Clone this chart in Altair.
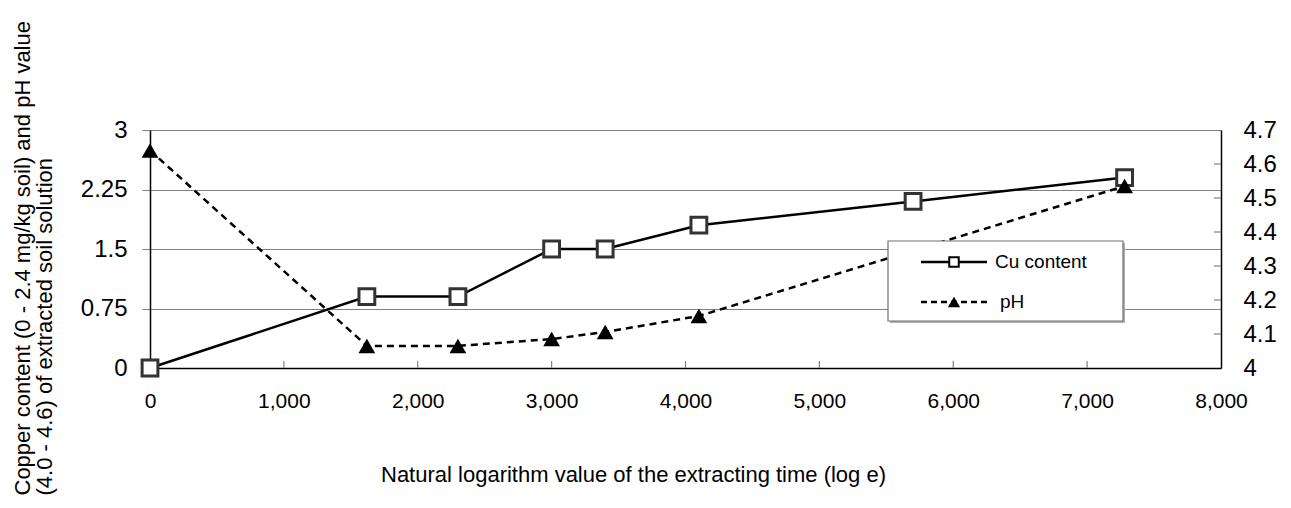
import altair as alt
import pandas as pd

# ---- data ----
times = [0, 1620, 2300, 3000, 3400, 4100, 5700, 7280]
cu_content = [0.0, 0.9, 0.9, 1.5, 1.5, 1.8, 2.1, 2.4]
ph_values = [4.64, 4.065, 4.065, 4.085, 4.106, 4.153, 4.345, 4.535]

x_ticks = [0, 1000, 2000, 3000, 4000, 5000, 6000, 7000, 8000]
cu_ticks = [0, 0.75, 1.5, 2.25, 3]
ph_ticks = [4.0, 4.1, 4.2, 4.3, 4.4, 4.5, 4.6, 4.7]

legend_labels = ["Cu content", "pH"]

FONT = "Liberation Sans"
W, H = 1071, 238

df = pd.DataFrame({"t": times, "cu": cu_content, "ph": ph_values})
df_xt = pd.DataFrame({"t": x_ticks[1:-1]})
df_pht = pd.DataFrame({"ph": ph_ticks[1:-1]})

x_axis = alt.Axis(
    values=x_ticks, format=",.0f", tickSize=0, grid=False,
    labelPadding=22, labelFontSize=21, labelFont=FONT, labelColor="black",
    labelOverlap=False, labelFlush=False,
    domainColor="black", domainWidth=1.5,
    title="Natural logarithm value of the extracting time (log e)",
    titleFont=FONT, titleFontSize=22, titleFontWeight="normal", titleColor="black",
    titleX=483, titleY=113, titleAlign="center", titleBaseline="alphabetic",
)
x_scale = alt.Scale(domain=[0, 8000], nice=False, zero=False)


def xe():
    return alt.X("t:Q", scale=x_scale, axis=x_axis)


cu_axis = alt.Axis(
    values=cu_ticks, format=".2~f", grid=True, gridColor="#808080", gridWidth=1.2,
    tickSize=8, tickColor="#808080", labelPadding=15,
    labelFontSize=24, labelFont=FONT, labelColor="black", labelOverlap=False,
    domainColor="black", domainWidth=1.5,
    title=["Copper content (0 - 2.4 mg/kg soil) and pH value",
           "(4.0 - 4.6) of extracted soil solution"],
    titleFont=FONT, titleFontSize=22, titleFontWeight="normal", titleColor="black",
    titleAngle=270, titleAlign="left", titleBaseline="top",
    titleX=-138, titleY=365, titleLineHeight=22,
)
cu_scale = alt.Scale(domain=[0, 3], nice=False, zero=False)


def cue():
    return alt.Y("cu:Q", scale=cu_scale, axis=cu_axis)


ph_axis = alt.Axis(
    orient="right", values=ph_ticks, format=".1~f", grid=False, tickSize=0,
    labelPadding=22, labelFontSize=24, labelFont=FONT, labelColor="black",
    labelOverlap=False, labelFlush=False, labelBound=False,
    domainColor="black", domainWidth=1.5, title="",
)
ph_scale = alt.Scale(domain=[4, 4.7], nice=False, zero=False)


def phe():
    return alt.Y("ph:Q", scale=ph_scale, axis=ph_axis)


# x-axis inner ticks
x_inner = alt.Chart(df_xt).mark_rule(color="#808080", strokeWidth=1.2).encode(
    x=xe(), y=alt.value(H), y2=alt.value(H - 7),
)

cu_line = alt.Chart(df).mark_line(color="black", strokeWidth=2.5).encode(x=xe(), y=cue())
cu_pts = alt.Chart(df).mark_point(
    shape="square", size=250, filled=True, fill="white", stroke="#333333", strokeWidth=3, opacity=1
).encode(x=xe(), y=cue())

ph_line = alt.Chart(df).mark_line(color="black", strokeWidth=2.5, strokeDash=[7, 5]).encode(x=xe(), y=phe())
ph_pts = alt.Chart(df).mark_point(
    shape="triangle-up", size=280, filled=True, color="black", opacity=1
).encode(x=xe(), y=phe())
ph_inner = alt.Chart(df_pht).mark_rule(color="#808080", strokeWidth=1.2).encode(
    y=phe(), x=alt.value(W - 7), x2=alt.value(W),
)

cu_layer = alt.layer(cu_line, cu_pts, x_inner)
ph_layer = alt.layer(ph_line, ph_pts, ph_inner)
main = alt.layer(cu_layer, ph_layer).resolve_scale(y="independent")

# ---- legend box (drawn on top) ----
lx0, lx1, ly0, ly1 = 738, 973, 111, 191
leg_df = pd.DataFrame({"label": legend_labels})
one = leg_df.head(1)
shadow = alt.Chart(one).mark_rect(fill="#b0b0b0").encode(
    x=alt.value(lx0 + 2), x2=alt.value(lx1 + 2), y=alt.value(ly0 + 2), y2=alt.value(ly1 + 2)
)
box = alt.Chart(one).mark_rect(fill="white", stroke="#707070", strokeWidth=1.2).encode(
    x=alt.value(lx0), x2=alt.value(lx1), y=alt.value(ly0), y2=alt.value(ly1)
)
leg_line1 = alt.Chart(one).mark_rule(color="black", strokeWidth=2.5).encode(
    x=alt.value(771), x2=alt.value(837), y=alt.value(132)
)
leg_line2 = alt.Chart(one).mark_rule(color="black", strokeWidth=2.5, strokeDash=[6, 4]).encode(
    x=alt.value(771), x2=alt.value(837), y=alt.value(172)
)
leg_sq = alt.Chart(one).mark_point(
    shape="square", size=90, filled=True, fill="white", stroke="black", strokeWidth=2, opacity=1
).encode(x=alt.value(804), y=alt.value(132))
leg_tri = alt.Chart(one).mark_point(
    shape="triangle-up", size=150, filled=True, color="black", opacity=1
).encode(x=alt.value(804), y=alt.value(172))
leg_txt1 = alt.Chart(one).mark_text(
    font=FONT, fontSize=19, align="left", baseline="middle", color="black"
).encode(x=alt.value(845), y=alt.value(132), text="label:N")
leg_txt2 = alt.Chart(leg_df.tail(1)).mark_text(
    font=FONT, fontSize=19, align="left", baseline="middle", color="black"
).encode(x=alt.value(850), y=alt.value(172), text="label:N")

chart = alt.layer(
    main, shadow, box, leg_line1, leg_line2, leg_sq, leg_tri, leg_txt1, leg_txt2
).properties(
    width=W, height=H,
    autosize=alt.AutoSizeParams(type="none"),
    padding={"left": 142, "top": 122, "right": 62, "bottom": 132},
).configure_view(
    stroke="#808080", strokeWidth=1.5
).configure(background="white")

chart.save("out.html", embed_options={"renderer": "svg", "actions": False})
